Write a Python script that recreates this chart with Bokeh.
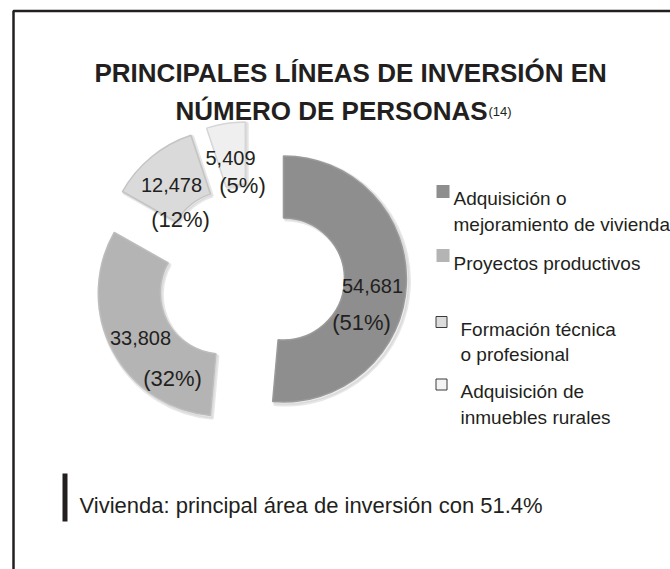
import numpy as np
from bokeh.plotting import figure
from bokeh.models import Range1d, ColumnDataSource
from bokeh.core.properties import value
from bokeh.embed import file_html
from bokeh.resources import INLINE

# ---------------- data ----------------
categories = ["Adquisición o mejoramiento de vivienda", "Proyectos productivos",
              "Formación técnica o profesional", "Adquisición de inmuebles rurales"]
persons = [54681, 33808, 12478, 5409]
value_labels = ["54,681", "33,808", "12,478", "5,409"]
pct_labels = ["(51%)", "(32%)", "(12%)", "(5%)"]
colors = ["#8e8e8e", "#b4b4b4", "#dadada", "#efefef"]
edge_colors = ["#9a9a9a", "#bdbdbd", "#c4c4c4", "#d6d6d6"]

FONT = "Liberation Sans"
INK = "#231f20"

W, H = 670, 569
# data coordinates: x = page x, y = -page y
p = figure(width=W, height=H, x_range=Range1d(0, W), y_range=Range1d(-H, 0),
           output_backend="svg", toolbar_location=None, min_border=0,
           x_axis_location=None, y_axis_location=None)
p.grid.visible = False
p.outline_line_color = None

# frame line (open at right / bottom)
p.line(x=[13, 13, 720], y=[-700, -10.5, -10.5], line_color=INK, line_width=2.5)

# ---------------- donut ----------------
cx, cy = 250, -277
r_in, r_out = 61, 123
explode = 33
total = float(sum(persons))
frac = np.array(persons) / total
cum = np.concatenate([[0], np.cumsum(frac)])
start = np.pi / 2 - cum[:-1] * 2 * np.pi
end = np.pi / 2 - cum[1:] * 2 * np.pi
mid = (start + end) / 2
xs = cx + explode * np.cos(mid)
ys = cy + explode * np.sin(mid)

src = ColumnDataSource(dict(x=xs, y=ys, start=start, end=end, color=colors, edge=edge_colors,
                            sx=xs + 2, sy=ys - 2))
# soft shadow
p.annular_wedge(x="sx", y="sy", inner_radius=r_in, outer_radius=r_out + 1,
                start_angle="start", end_angle="end", direction="clock",
                fill_color="#9a9a9a", fill_alpha=0.18, line_color="#bbbbbb",
                line_alpha=0.35, line_width=3, source=src)
p.annular_wedge(x="x", y="y", inner_radius=r_in, outer_radius=r_out,
                start_angle="start", end_angle="end", direction="clock",
                fill_color="color", line_color="edge", line_width=1.5, source=src)

# labels (page coordinates of label centres)
val_pos = [(372, 285), (140, 337), (171, 184), (230, 157)]
pct_pos = [(361, 322), (172, 378), (180, 219), (242, 185)]
p.text(x=[a for a, b in val_pos], y=[-b for a, b in val_pos], text=value_labels,
       text_font=value(FONT), text_font_size="20px", text_color=INK,
       text_align="center", text_baseline="middle")
p.text(x=[a for a, b in pct_pos], y=[-b for a, b in pct_pos], text=pct_labels,
       text_font=value(FONT), text_font_size="22px", text_color=INK,
       text_align="center", text_baseline="middle")

# ---------------- legend ----------------
sq = [(442.5, 191, 13), (442.5, 255, 13), (441, 321.5, 11), (441, 384, 11)]
p.rect(x=[s[0] for s in sq[:2]], y=[-s[1] for s in sq[:2]],
       width=[s[2] for s in sq[:2]], height=[s[2] for s in sq[:2]],
       fill_color=colors[:2], line_color=None)
p.rect(x=[s[0] for s in sq[2:]], y=[-s[1] for s in sq[2:]],
       width=[s[2] for s in sq[2:]], height=[s[2] for s in sq[2:]],
       fill_color=["#dcdcdc", "#f4f4f4"], line_color="#3a3a3a", line_width=1)

leg_lines = [("Adquisición o", 453, 198), ("mejoramiento de vivienda", 453, 224),
             ("Proyectos productivos", 453, 263),
             ("Formación técnica", 460, 329), ("o profesional", 460, 354),
             ("Adquisición de", 460, 391), ("inmuebles rurales", 460, 417)]
p.text(x=[l[1] for l in leg_lines], y=[-l[2] for l in leg_lines], text=[l[0] for l in leg_lines],
       text_font=value(FONT), text_font_size="19px", text_color=INK,
       text_align="left", text_baseline="alphabetic")

# ---------------- title ----------------
p.text(x=[94], y=[-72], text=["PRINCIPALES LÍNEAS DE INVERSIÓN EN"],
       text_font=value(FONT), text_font_size="26px", text_font_style="bold",
       text_color=INK, text_align="left", text_baseline="alphabetic")
p.text(x=[175], y=[-110], text=["NÚMERO DE PERSONAS"],
       text_font=value(FONT), text_font_size="26px", text_font_style="bold",
       text_color=INK, text_align="left", text_baseline="alphabetic")
p.text(x=[488], y=[-111], text=["(14)"],
       text_font=value(FONT), text_font_size="13px",
       text_color=INK, text_align="left", text_baseline="alphabetic")

# ---------------- footnote ----------------
p.quad(left=[62], right=[67], top=[-473], bottom=[-521], fill_color=INK, line_color=None)
p.text(x=[79], y=[-505], text=["Vivienda: principal área de inversión con 51.4%"],
       text_font=value(FONT), text_font_size="22px", text_color=INK,
       text_align="left", text_baseline="alphabetic")

open("out.html", "w").write(file_html(p, INLINE))
